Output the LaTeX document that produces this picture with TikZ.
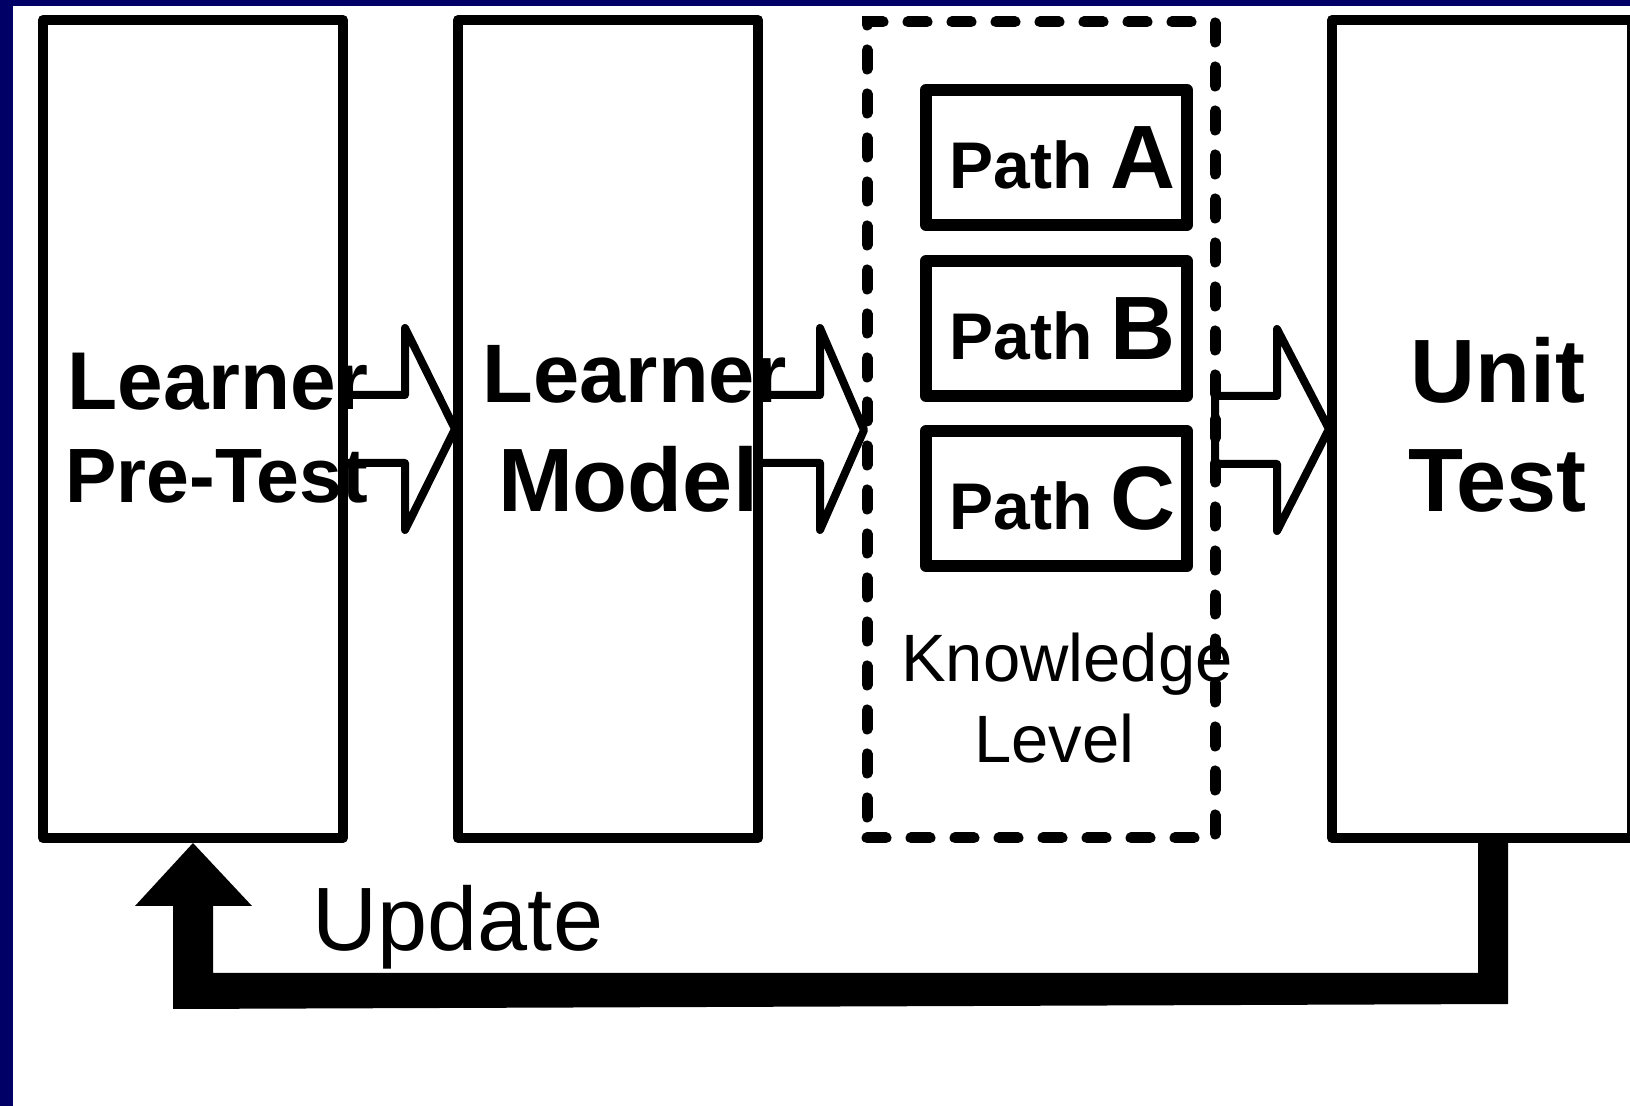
\documentclass[tikz,border=0pt]{standalone}
\usepackage{fontspec}
\setmainfont{Liberation Sans}
\usetikzlibrary{calc}
\definecolor{frame}{HTML}{000066}
\newcommand{\fsz}[1]{\fontsize{#1}{#1}\selectfont}
\newcommand{\pathlbl}[1]{\kern6pt Path {\fsz{45}#1}}
\tikzset{
    block/.style={draw, line width=5pt, line join=round, inner sep=0pt, outer sep=0pt,
        minimum width=150pt, minimum height=409pt},
    pathbox/.style={draw, line width=6pt, line join=round, inner sep=0pt,
        minimum width=130.5pt, minimum height=67.5pt, font=\bfseries\fsz{33}},
    levelbox/.style={draw, line width=5.5pt, line cap=round, dash pattern=on 9.5pt off 12.5pt,
        inner sep=0pt, outer sep=0pt, minimum width=174pt, minimum height=408pt},
    heavy/.style={font=\bfseries\fsz{#1}, anchor=base, inner sep=0pt},
    light/.style={font=\fsz{#1}, anchor=base, inner sep=0pt},
    flow/.style={draw, line width=4pt, line join=round}
}

\begin{document}
\begin{tikzpicture}[x=1pt, y=-1pt]
        \useasboundingbox (0,0) rectangle (815,553);
        \fill[white] (0,0) rectangle (815,553);
        \fill[frame] (0,0) rectangle (815,3);
        \fill[frame] (0,0) rectangle (6.5,553);

        \node[block] (pretest) at (96.5,214.5) {};
        \node[block] (model) at (304,214.5) {};
        \node[levelbox] (level) at (520.5,215) {};
        \node[block] (unittest) at (741,214.5) {};

        \node[pathbox] (pathA) at (528.25,78.75) {\pathlbl{A}};
        \node[pathbox] (pathB) at (528.25,164.25) {\pathlbl{B}};
        \node[pathbox] (pathC) at (528.25,249.25) {\pathlbl{C}};

        \node[heavy=41] (pretestA) at (109,205) {Learner};
        \node[heavy=38.5] (pretestB) at (108.25,251.5) {Pre-Test};
        \node[heavy=41.5] (modelA) at (317.5,201.5) {Learner};
        \node[heavy=45] (modelB) at (314,256) {Model};
        \node[heavy=45] (unitA) at (749,201.5) {Unit};
        \node[heavy=45] (unitB) at (748.75,256) {Test};
        \node[light=33.5] (levelA) at (533.5,341) {Knowledge};
        \node[light=33.5] (levelB) at (527.25,381.5) {Level};
        \node[light=45] (update) at (229,475.5) {Update};

        \foreach \a/\b in {pretest/model, model/level, level/unittest}
            \draw[flow] (\a.east) -- ++(0,-17) -- ++(31,0) -- ++(0,-33.5) -- ([xshift=-1.5pt]\b.west)
                -- ($(\a.east)+(31,50.5)$) -- ++(0,-33.5) -- ++(-31,0) -- cycle;

        % update loop back to the pre-test
        \fill ($(unittest.south)+(-2,2.5)$) -- ++(15,0) -- ++(0,80.5)
            -- ($(pretest.south)+(-10,85.5)$) -- ($(pretest.south)+(-10,34)$)
            -- ($(pretest.south)+(-29,34)$) -- ($(pretest.south)+(0,2.5)$)
            -- ($(pretest.south)+(29.5,34)$) -- ($(pretest.south)+(10,34)$)
            -- ($(pretest.south)+(10,67.5)$) -- ($(unittest.south)+(-2,67.5)$) -- cycle;
\end{tikzpicture}
\end{document}
